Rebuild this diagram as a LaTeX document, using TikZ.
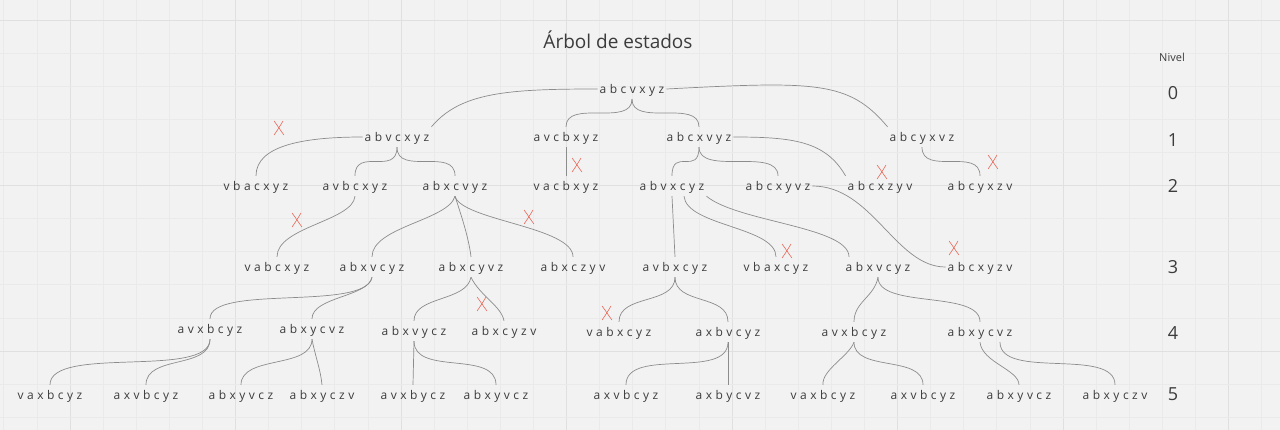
\documentclass[tikz,border=0pt]{standalone}
\usepackage{fontspec}
\setmainfont{Open Sans}
\newfontfamily\labfont[LetterSpace=3]{Open Sans}
\definecolor{bgc}{HTML}{F2F2F2}
\definecolor{gminor}{HTML}{EAEAEA}
\definecolor{gmajor}{HTML}{E0E0E0}
\definecolor{txt}{HTML}{3C3C3C}
\definecolor{lnc}{HTML}{8C8C8C}
\definecolor{redx}{HTML}{E8604F}
\begin{document}
\begin{tikzpicture}[x=1pt,y=-1pt,
  st/.style={inner xsep=2pt, inner ysep=4pt, text height=10.5pt, text depth=1.5pt, text=txt, font=\labfont\fontsize{12}{14}\selectfont},
  lvl/.style={text=txt, inner sep=0pt, font=\fontsize{18}{20}\selectfont},
  ln/.style={draw=lnc, line width=0.7pt},
  sb/.style={out=-90,in=90,out distance=#1,in distance=#1},
  gmin/.style={draw=gminor, line width=0.6pt},
  gmaj/.style={draw=gmajor, line width=0.8pt},
  redcross/.pic={\draw[redx, line width=0.55pt] (-5,-7) .. controls (-1,-2) and (1,2) .. (5,7);
                 \draw[redx, line width=0.55pt] (4,-7) .. controls (1,-2) and (-2,3) .. (-5,7);}
]
\useasboundingbox (0,0) rectangle (1280,430);
\fill[bgc] (0,0) rectangle (1280,430);
% grid
\foreach \i in {0,...,38} {
  \pgfmathtruncatemacro{\m}{mod(\i,5)}
  \ifnum\m=2 \draw[gmaj] ({3.7+33.1*\i},0) -- ({3.7+33.1*\i},430);
  \else \draw[gmin] ({3.7+33.1*\i},0) -- ({3.7+33.1*\i},430); \fi
}
\foreach \j in {0,...,12} {
  \pgfmathtruncatemacro{\m}{mod(\j,5)}
  \ifnum\m=0 \draw[gmaj] (0,{20+33.1*\j}) -- (1280,{20+33.1*\j});
  \else \draw[gmin] (0,{20+33.1*\j}) -- (1280,{20+33.1*\j}); \fi
}

% titles
\node[text=txt, font=\fontsize{19}{22}\selectfont] (title) at (618,40) {Árbol de estados};
\node[text=txt, font=\fontsize{11}{13}\selectfont] (nivel) at (1172,57) {Nivel};
\node[lvl] (l0) at (1173,93) {0};
\node[lvl] (l1) at (1173,140) {1};
\node[lvl] (l2) at (1173,186) {2};
\node[lvl] (l3) at (1173,267) {3};
\node[lvl] (l4) at (1173,333) {4};
\node[lvl] (l5) at (1173,394) {5};

% level 0
\node[st] (r) at (632,89) {a b c v x y z};
% level 1
\node[st] (n1a) at (397,137) {a b v c x y z};
\node[st] (n1b) at (566,137) {a v c b x y z};
\node[st] (n1c) at (699,137) {a b c x v y z};
\node[st] (n1d) at (922,137) {a b c y x v z};
% level 2
\node[st] (n2a) at (256,186) {v b a c x y z};
\node[st] (n2b) at (355,186) {a v b c x y z};
\node[st] (n2c) at (455,186) {a b x c v y z};
\node[st] (n2d) at (566,186) {v a c b x y z};
\node[st] (n2e) at (672,186) {a b v x c y z};
\node[st] (n2f) at (778,186) {a b c x y v z};
\node[st] (n2g) at (880,186) {a b c x z y v};
\node[st] (n2h) at (980,186) {a b c y x z v};
% level 3
\node[st] (n3a) at (277,267) {v a b c x y z};
\node[st] (n3b) at (372,267) {a b x v c y z};
\node[st] (n3c) at (471,267) {a b x c y v z};
\node[st] (n3d) at (573,267) {a b x c z y v};
\node[st] (n3e) at (675,267) {a v b x c y z};
\node[st] (n3f) at (776,267) {v b a x c y z};
\node[st] (n3g) at (878,267) {a b x v c y z};
\node[st] (n3h) at (980,267) {a b c x y z v};
% level 4
\node[st] (n4a) at (210,329) {a v x b c y z};
\node[st] (n4b) at (312,329) {a b x y c v z};
\node[st] (n4c) at (414,331) {a b x v y c z};
\node[st] (n4d) at (504,331) {a b x c y z v};
\node[st] (n4e) at (619,332) {v a b x c y z};
\node[st] (n4f) at (728,332) {a x b v c y z};
\node[st] (n4g) at (854,332) {a v x b c y z};
\node[st] (n4h) at (980,332) {a b x y c v z};
% level 5
\node[st] (n5a) at (50,395) {v a x b c y z};
\node[st] (n5b) at (146,395) {a x v b c y z};
\node[st] (n5c) at (241,395) {a b x y v c z};
\node[st] (n5d) at (322,395) {a b x y c z v};
\node[st] (n5e) at (413,395) {a v x b y c z};
\node[st] (n5f) at (496,395) {a b x y v c z};
\node[st] (n5g) at (626,395) {a x v b c y z};
\node[st] (n5h) at (728,395) {a x b y c v z};
\node[st] (n5i) at (823,395) {v a x b c y z};
\node[st] (n5j) at (923,395) {a x v b c y z};
\node[st] (n5k) at (1019,395) {a b x y v c z};
\node[st] (n5l) at (1115,395) {a b x y c z v};

% level 0 -> 1
\draw[ln] (r.west) to[out=180,in=50,out distance=90pt,in distance=45pt] (n1a.north east);
\draw[ln] (r.south) to[sb=28pt] (n1b.north);
\draw[ln] (r.south) to[sb=28pt] (n1c.north);
\draw[ln] (r.east) to[out=3,in=130,out distance=150pt,in distance=60pt] (n1d.north west);
% level 1 -> 2
\draw[ln] (n1a.west) to[out=180,in=90,out distance=60pt,in distance=30pt] (n2a.north);
\draw[ln] (n1a.south) to[sb=29pt] (n2b.north);
\draw[ln] (n1a.south) to[sb=29pt] (n2c.north);
\draw[ln] (n1b.south) -- (n2d.north);
\draw[ln] (n1c.south) to[sb=29pt] (n2e.north);
\draw[ln] (n1c.south) to[sb=29pt] (n2f.north);
\draw[ln] (n1c.east) to[out=0,in=120,out distance=60pt,in distance=40pt] (n2g.north west);
\draw[ln] (n1d.south) to[sb=29pt] (n2h.north);
% level 2 -> 3
\draw[ln] (n2b.south) to[out=-95,in=90,out distance=25pt,in distance=30pt] (n3a.north);
\draw[ln] (n2c.south) to[out=-105,in=90,out distance=25pt,in distance=30pt] (n3b.north);
\draw[ln] (n2c.south) to[out=-72,in=97,out distance=20pt,in distance=20pt] (n3c.north);
\draw[ln] (n2c.south) to[out=-75,in=90,out distance=25pt,in distance=30pt] (n3d.north);
\draw[ln] (n2e.south) -- (n3e.north);
\draw[ln] ([xshift=12pt]n2e.south) to[out=-85,in=90,out distance=30pt,in distance=30pt] (n3f.north);
\draw[ln] (n2e.south east) to[out=-40,in=90,out distance=40pt,in distance=30pt] ([xshift=-29pt]n3g.north);
\draw[ln] (n2f.east) to[out=0,in=180,out distance=60pt,in distance=50pt] (n3h.west);
% level 3 -> 4
\draw[ln] (n3b.south) to[out=-100,in=90,out distance=35pt,in distance=35pt] (n4a.north);
\draw[ln] (n3b.south) to[out=-100,in=90,out distance=20pt,in distance=22pt] (n4b.north);
\draw[ln] (n3c.south) to[out=-100,in=90,out distance=25pt,in distance=25pt] (n4c.north);
\draw[ln] (n3c.south) to[out=-65,in=100,out distance=20pt,in distance=15pt] (n4d.north);
\draw[ln] (n3e.south) to[sb=28pt] (n4e.north);
\draw[ln] (n3e.south) to[sb=28pt] (n4f.north);
\draw[ln] (n3g.south) to[out=-100,in=90,out distance=20pt,in distance=20pt] (n4g.north);
\draw[ln] (n3g.south) to[sb=32pt] (n4h.north);
% level 4 -> 5
\draw[ln] (n4a.south) to[sb=40pt] (n5a.north);
\draw[ln] (n4a.south) to[sb=30pt] (n5b.north);
\draw[ln] (n4b.south) to[sb=30pt] (n5c.north);
\draw[ln] (n4b.south) to[out=-80,in=95,out distance=15pt,in distance=15pt] (n5d.north);
\draw[ln] (n4c.south) -- (n5e.north);
\draw[ln] (n4c.south) to[sb=35pt] (n5f.north);
\draw[ln] (n4f.south) to[sb=38pt] (n5g.north);
\draw[ln] (n4f.south) -- (n5h.north);
\draw[ln] (n4g.south) to[out=-110,in=95,out distance=15pt,in distance=15pt] (n5i.north);
\draw[ln] (n4g.south) to[sb=30pt] (n5j.north);
\draw[ln] (n4h.south) to[out=-85,in=90,out distance=20pt,in distance=15pt] (n5k.north);
\draw[ln] ([xshift=20pt]n4h.south) to[sb=38pt] (n5l.north);

% red crosses
\pic at (279,128) {redcross};
\pic at (577,165) {redcross};
\pic at (882,172) {redcross};
\pic at (993,162) {redcross};
\pic at (297,220) {redcross};
\pic at (529,217) {redcross};
\pic at (787,251) {redcross};
\pic at (954,248) {redcross};
\pic at (482,304) {redcross};
\pic at (607,313) {redcross};
\end{tikzpicture}
\end{document}
